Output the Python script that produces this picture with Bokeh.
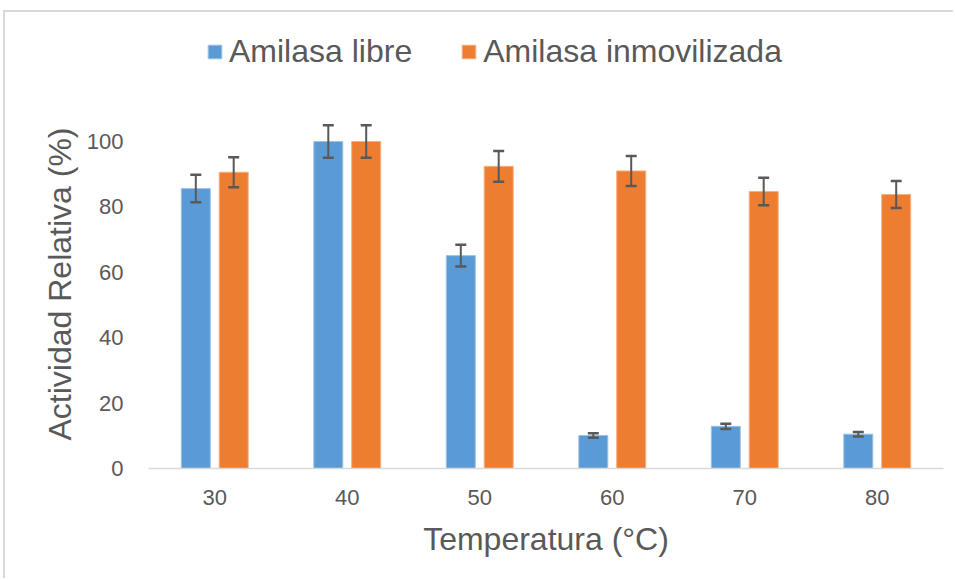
from bokeh.plotting import figure
from bokeh.models import (ColumnDataSource, Range1d, FixedTicker, Whisker, TeeHead,
                          Legend, LegendItem, Title)
from bokeh.embed import file_html
from bokeh.resources import INLINE
import numpy as np

# ---- data ----
temperatures = ["30", "40", "50", "60", "70", "80"]
libre = [85.6, 100.0, 65.1, 10.1, 12.9, 10.5]
libre_err = [4.2, 5.0, 3.3, 0.7, 0.8, 0.7]
inmov = [90.6, 100.0, 92.4, 91.0, 84.7, 83.8]
inmov_err = [4.6, 5.0, 4.7, 4.6, 4.2, 4.1]
y_ticks = [0, 20, 40, 60, 80, 100]

FONT = "Liberation Sans"
TXT = "#595959"
BLUE = "#5B9BD5"
ORANGE = "#ED7D31"

idx = np.arange(len(temperatures)) + 0.5
off = 0.143
bw = 0.219

src_l = ColumnDataSource(dict(x=idx - off, top=libre,
                              lo=np.array(libre) - np.array(libre_err),
                              hi=np.array(libre) + np.array(libre_err)))
src_i = ColumnDataSource(dict(x=idx + off, top=inmov,
                              lo=np.array(inmov) - np.array(inmov_err),
                              hi=np.array(inmov) + np.array(inmov_err)))

p = figure(width=950, height=568, output_backend="svg", toolbar_location=None,
           x_range=Range1d(0, len(temperatures)), y_range=Range1d(0, 137),
           min_border_left=143, min_border_right=12, min_border_top=8, min_border_bottom=112)
p.outline_line_color = None
p.grid.visible = False
p.background_fill_color = "white"
p.border_fill_color = "white"

r1 = p.vbar(x="x", top="top", width=bw, source=src_l, fill_color=BLUE,
            line_color="#9DC3E6", line_width=1)
r2 = p.vbar(x="x", top="top", width=bw, source=src_i, fill_color=ORANGE,
            line_color="#F4B183", line_width=1)

for s in (src_l, src_i):
    w = Whisker(base="x", lower="lo", upper="hi", source=s, level="annotation",
                line_color=TXT, line_width=2,
                upper_head=TeeHead(size=11, line_color=TXT, line_width=2.5),
                lower_head=TeeHead(size=11, line_color=TXT, line_width=2.5))
    p.add_layout(w)

# axes
p.xaxis.ticker = FixedTicker(ticks=list(idx))
p.xaxis.major_label_overrides = {float(v): t for v, t in zip(idx, temperatures)}
p.xaxis.axis_line_color = "#D9D9D9"
p.xaxis.axis_line_width = 1.5
p.xaxis.major_tick_line_color = None
p.xaxis.minor_tick_line_color = None
p.xaxis.major_label_standoff = 15
p.xaxis.axis_label = "Temperatura (°C)"
p.xaxis.axis_label_standoff = 13

p.yaxis.ticker = FixedTicker(ticks=y_ticks)
p.yaxis.axis_line_color = None
p.yaxis.major_tick_line_color = None
p.yaxis.minor_tick_line_color = None
p.yaxis.major_label_standoff = 19

for ax in (p.xaxis[0], p.yaxis[0]):
    ax.major_label_text_font = FONT
    ax.major_label_text_font_size = "22px"
    ax.major_label_text_color = TXT
    ax.axis_label_text_font = FONT
    ax.axis_label_text_font_size = "32px"
    ax.axis_label_text_font_style = "normal"
    ax.axis_label_text_color = TXT

ytitle = Title(text="Actividad Relativa (%)", align="left", offset=28, standoff=11,
               text_font=FONT, text_font_size="32px", text_font_style="normal",
               text_color=TXT)
p.add_layout(ytitle, "left")

legend = Legend(items=[LegendItem(label="Amilasa libre", renderers=[r1]),
                       LegendItem(label="Amilasa inmovilizada", renderers=[r2])],
                orientation="horizontal", location=(58, 398),
                label_text_font=FONT, label_text_font_size="32px",
                label_text_color=TXT, glyph_width=17, glyph_height=17,
                label_standoff=6, spacing=48, padding=0, margin=0,
                border_line_color=None, background_fill_alpha=0)
p.add_layout(legend, "center")

p.styles = {"border-top": "2px solid #D9D9D9", "border-left": "2px solid #D9D9D9",
            "margin-top": "10px", "margin-left": "3px"}

open("out.html", "w").write(file_html(p, INLINE))
